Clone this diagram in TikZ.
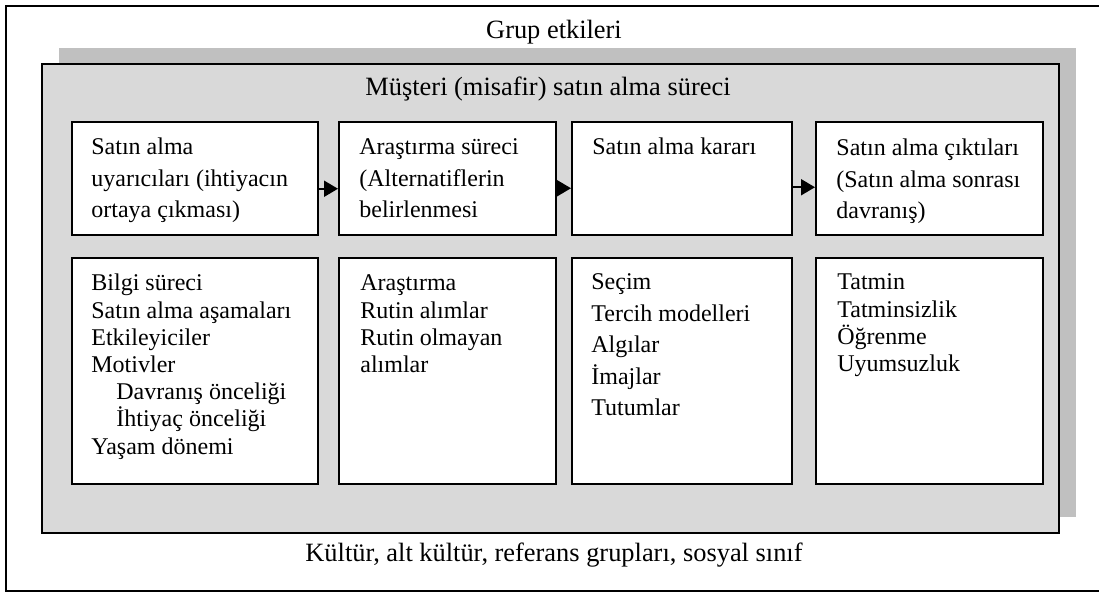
\documentclass[tikz,border=0pt]{standalone}
\usepackage{fontspec}
\setmainfont{Liberation Serif}
\usetikzlibrary{arrows.meta,positioning,calc}

\definecolor{shadowgray}{RGB}{192,192,192}
\definecolor{procgray}{RGB}{217,217,217}

% lines of text inside a box, first baseline at the node
\newcommand{\boxlines}[2]{\parbox[t]{125pt}{\setlength{\baselineskip}{#1}\lineskiplimit=-20pt\lineskip=0pt #2}}
\newcommand{\ind}{\hspace*{12.5pt}}

\begin{document}
\begin{tikzpicture}[x=0.5pt, y=-0.5pt,
    frame/.style={draw, line width=1pt},
    shadowbox/.style={rectangle, fill=shadowgray, minimum width=508.5pt, minimum height=234.5pt},
    procbox/.style={rectangle, draw, line width=1pt, fill=procgray,
                    minimum width=508.5pt, minimum height=234.5pt},
    stage/.style={rectangle, draw, line width=1pt, fill=white, minimum height=56.75pt},
    detail/.style={rectangle, draw, line width=1pt, fill=white, minimum height=113.25pt},
    txt/.style={anchor=base west, inner sep=0pt, font=\fontsize{12pt}{14pt}\selectfont},
    title/.style={anchor=base, inner sep=0pt, font=\fontsize{13.2pt}{15pt}\selectfont},
    arrow/.style={-{Triangle[length=7pt,width=8pt]}, line width=1pt}
]
\clip (0,0) rectangle (1099,592);
\draw[frame] (6,6) rectangle (1110,591);

\node[title] (grup) at (554,39) {Grup etkileri};

\node[shadowbox] (shadow) at (567.5,283) {};
\node[procbox] (proc) at (550.5,298.5) {};
\node[title] (proctitle) at (548,96) {Müşteri (misafir) satın alma süreci};

% stages
\node[stage, minimum width=123pt] (uyari) at (195,178.75) {};
\node[stage, minimum width=108.5pt] (arastirma) at (447.5,178.75) {};
\node[stage, minimum width=110pt] (karar) at (682,178.75) {};
\node[stage, minimum width=113.5pt] (cikti) at (929.5,178.75) {};

% details
\node[detail, minimum width=123pt] (bilgi) at (195,371.25) {};
\node[detail, minimum width=108.5pt] (rutin) at (447.5,371.25) {};
\node[detail, minimum width=110pt] (secim) at (682,371.25) {};
\node[detail, minimum width=113.5pt] (tatmin) at (929.5,371.25) {};

\node[txt] (uyaritxt) at ([shift={(20,34)}]uyari.north west)
    {\boxlines{15.75pt}{Satın alma\\uyarıcıları (ihtiyacın\\ortaya çıkması)}};
\node[txt] (arastirmatxt) at ([shift={(21,34)}]arastirma.north west)
    {\boxlines{15.75pt}{Araştırma süreci\\(Alternatiflerin\\belirlenmesi}};
\node[txt] (karartxt) at ([shift={(21,34)}]karar.north west)
    {\boxlines{15.75pt}{Satın alma kararı}};
\node[txt] (ciktitxt) at ([shift={(21,35)}]cikti.north west)
    {\boxlines{15.75pt}{Satın alma çıktıları\\(Satın alma sonrası\\davranış)}};

\node[txt] (bilgitxt) at ([shift={(20,34)}]bilgi.north west)
    {\boxlines{13.6pt}{Bilgi süreci\\Satın alma aşamaları\\Etkileyiciler\\Motivler\\
     \ind Davranış önceliği\\\ind İhtiyaç önceliği\\Yaşam dönemi}};
\node[txt] (rutintxt) at ([shift={(22,34)}]rutin.north west)
    {\boxlines{13.6pt}{Araştırma\\Rutin alımlar\\Rutin olmayan\\alımlar}};
\node[txt] (secimtxt) at ([shift={(20,33)}]secim.north west)
    {\boxlines{15.75pt}{Seçim\\Tercih modelleri\\Algılar\\İmajlar\\Tutumlar}};
\node[txt] (tatmintxt) at ([shift={(22,33)}]tatmin.north west)
    {\boxlines{13.6pt}{Tatmin\\Tatminsizlik\\Öğrenme\\Uyumsuzluk}};

\draw[arrow] ([yshift=-5pt]uyari.east) -- ([yshift=-5pt]arastirma.west);
\draw[arrow] ([yshift=-4.75pt]arastirma.east) -- ([yshift=-4.75pt]karar.west);
\draw[arrow] ([yshift=-4.25pt]karar.east) -- ([yshift=-4.25pt]cikti.west);

\node[title] (kultur) at (554,562) {Kültür, alt kültür, referans grupları, sosyal sınıf};
\end{tikzpicture}
\end{document}
